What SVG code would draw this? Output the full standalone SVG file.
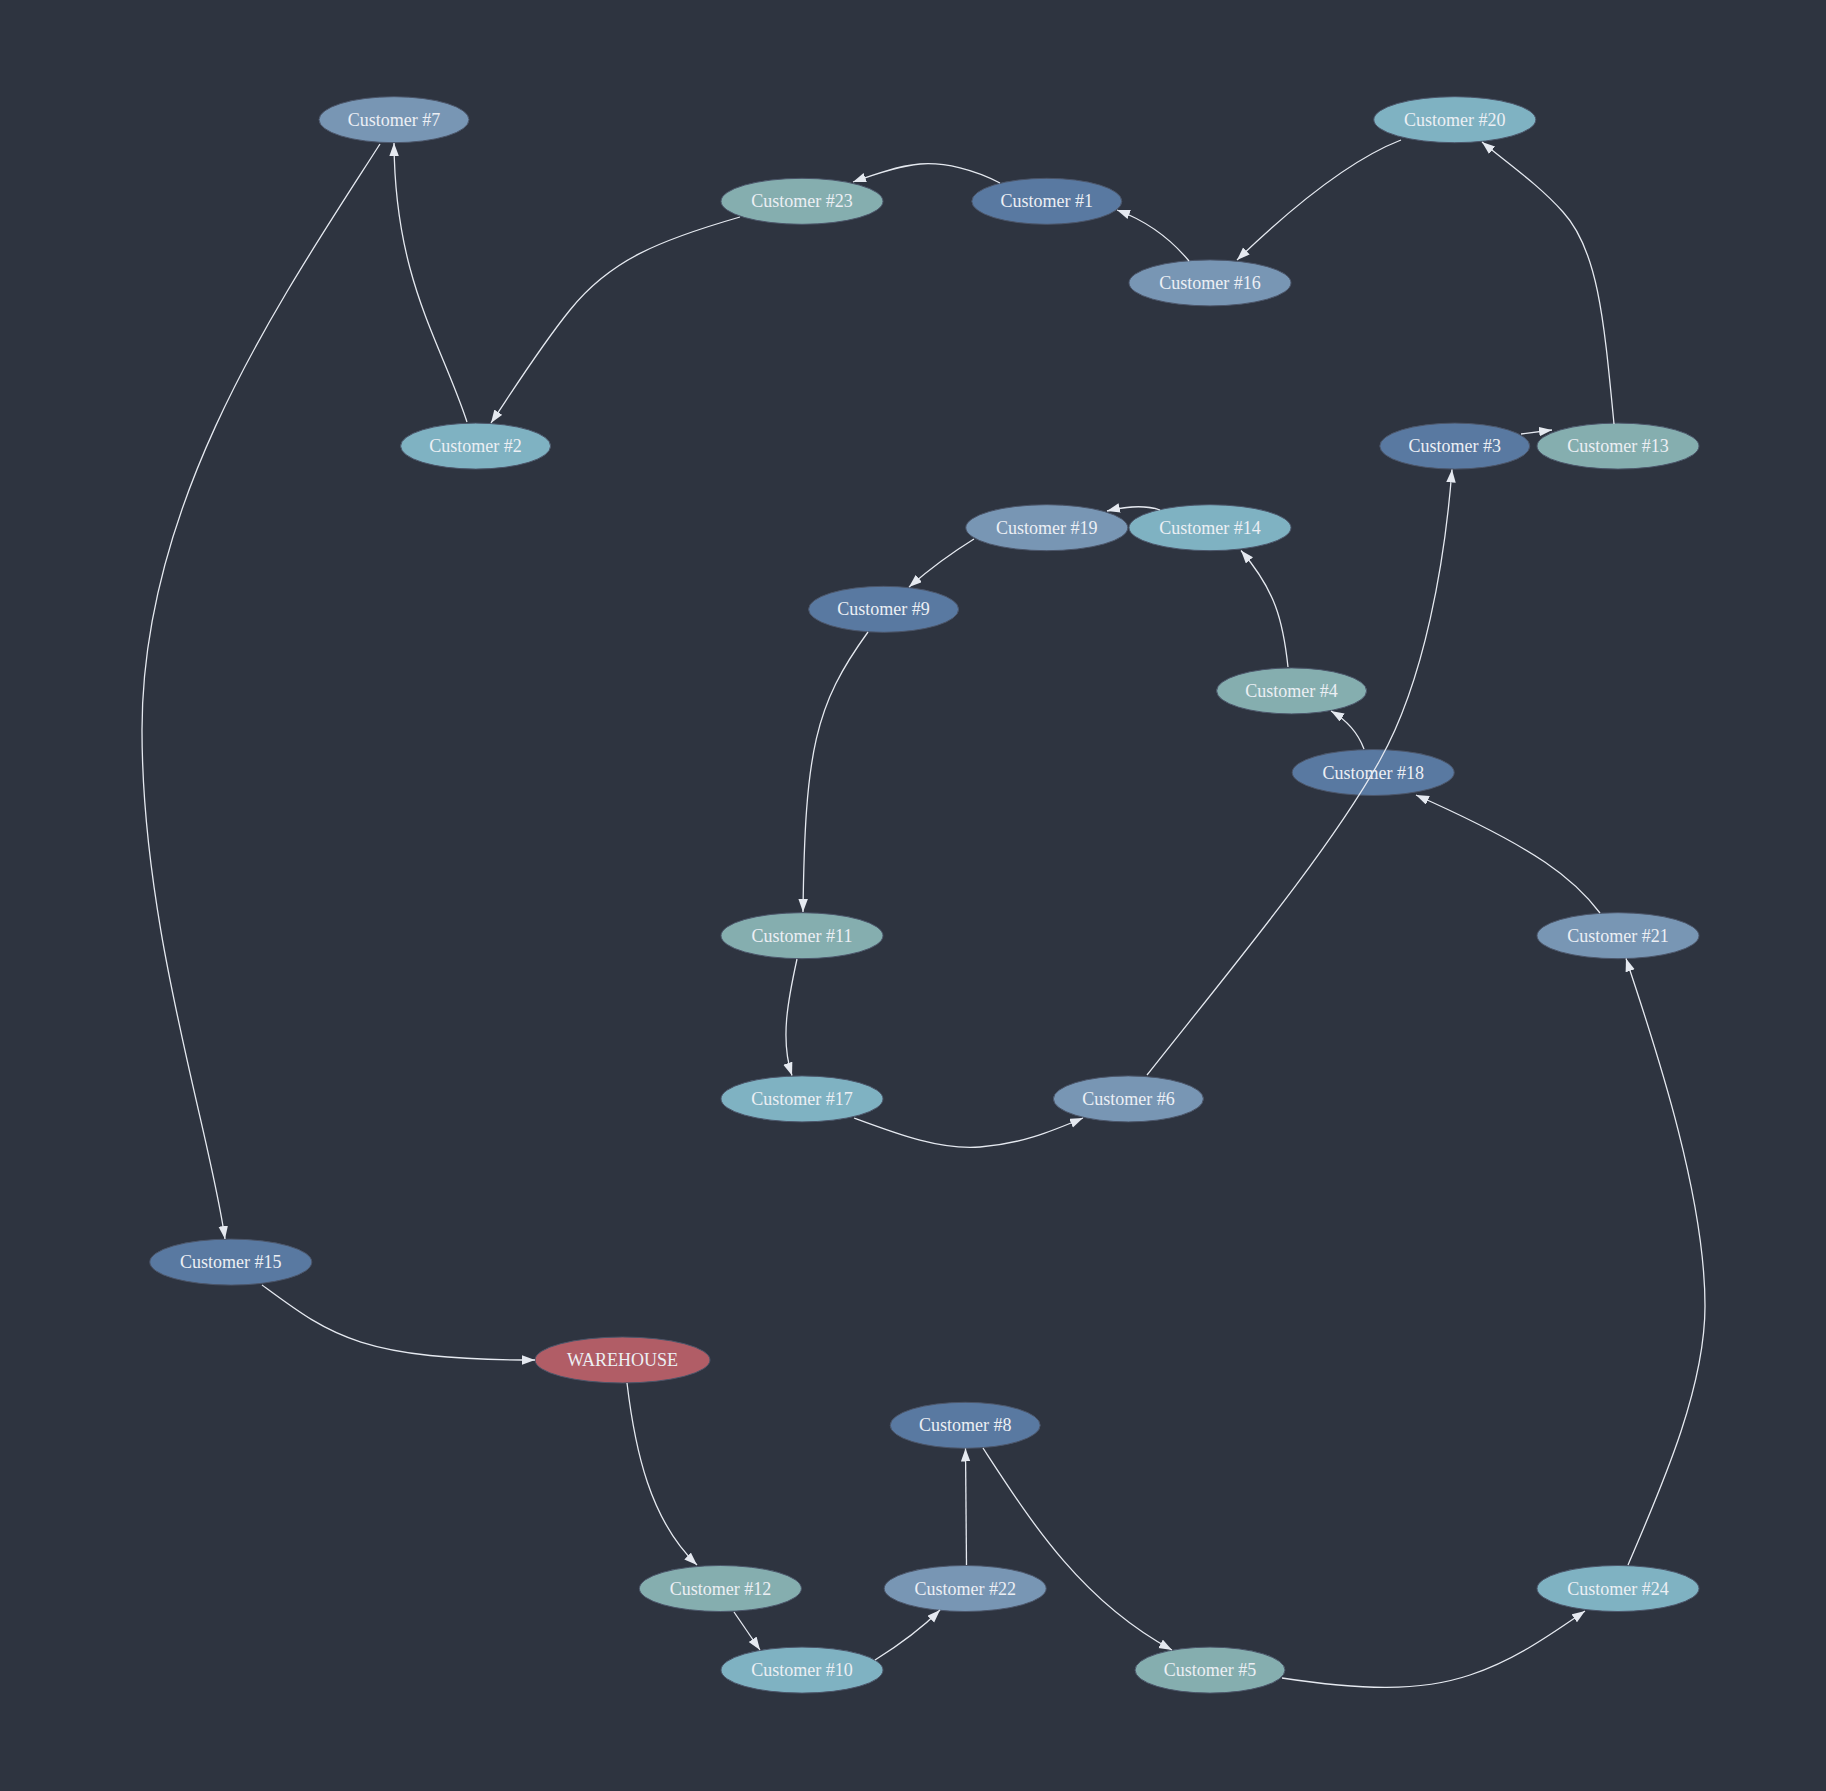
<svg xmlns="http://www.w3.org/2000/svg" width="1826" height="1791" viewBox="0 0 1826 1791">
<style>
.bg{fill:#2e3440}
.n ellipse{stroke:#4c566a;stroke-width:1}
.n text{font-family:"Liberation Serif","Times New Roman",serif;font-size:18px;fill:#eceff4;text-anchor:middle}
.c1{fill:#5979a1}.c2{fill:#7896b4}.c3{fill:#7fb2c2}.c4{fill:#85aeaf}.c5{fill:#b15d66}
#edges path{fill:none;stroke:#e5e9f0;stroke-width:1.3;marker-end:url(#ah)}
</style>
<defs>
<marker id="ah" markerUnits="userSpaceOnUse" markerWidth="14" markerHeight="10" refX="13" refY="4.75" orient="auto">
<path d="M0,0 L13,4.75 L0,9.5 z" fill="#e5e9f0"/>
</marker>
</defs>
<rect class="bg" x="0" y="0" width="1826" height="1791"/>
<g id="nodes">
<g id="c7" class="n"><ellipse class="c2" cx="394" cy="119.7" rx="75" ry="23"/><text x="394" y="125.7">Customer #7</text></g>
<g id="c20" class="n"><ellipse class="c3" cx="1454.8" cy="119.7" rx="81" ry="23"/><text x="1454.8" y="125.7">Customer #20</text></g>
<g id="c23" class="n"><ellipse class="c4" cx="802" cy="201.3" rx="81" ry="23"/><text x="802" y="207.3">Customer #23</text></g>
<g id="c1" class="n"><ellipse class="c1" cx="1046.8" cy="201.3" rx="75" ry="23"/><text x="1046.8" y="207.3">Customer #1</text></g>
<g id="c16" class="n"><ellipse class="c2" cx="1210" cy="282.9" rx="81" ry="23"/><text x="1210" y="288.9">Customer #16</text></g>
<g id="c2" class="n"><ellipse class="c3" cx="475.6" cy="446.1" rx="75" ry="23"/><text x="475.6" y="452.1">Customer #2</text></g>
<g id="c3" class="n"><ellipse class="c1" cx="1454.8" cy="446.1" rx="75" ry="23"/><text x="1454.8" y="452.1">Customer #3</text></g>
<g id="c13" class="n"><ellipse class="c4" cx="1618" cy="446.1" rx="81" ry="23"/><text x="1618" y="452.1">Customer #13</text></g>
<g id="c19" class="n"><ellipse class="c2" cx="1046.8" cy="527.7" rx="81" ry="23"/><text x="1046.8" y="533.7">Customer #19</text></g>
<g id="c14" class="n"><ellipse class="c3" cx="1210" cy="527.7" rx="81" ry="23"/><text x="1210" y="533.7">Customer #14</text></g>
<g id="c9" class="n"><ellipse class="c1" cx="883.6" cy="609.3" rx="75" ry="23"/><text x="883.6" y="615.3">Customer #9</text></g>
<g id="c4" class="n"><ellipse class="c4" cx="1291.6" cy="690.9" rx="75" ry="23"/><text x="1291.6" y="696.9">Customer #4</text></g>
<g id="c18" class="n"><ellipse class="c1" cx="1373.2" cy="772.5" rx="81" ry="23"/><text x="1373.2" y="778.5">Customer #18</text></g>
<g id="c11" class="n"><ellipse class="c4" cx="802" cy="935.7" rx="81" ry="23"/><text x="802" y="941.7">Customer #11</text></g>
<g id="c21" class="n"><ellipse class="c2" cx="1618" cy="935.7" rx="81" ry="23"/><text x="1618" y="941.7">Customer #21</text></g>
<g id="c17" class="n"><ellipse class="c3" cx="802" cy="1098.9" rx="81" ry="23"/><text x="802" y="1104.9">Customer #17</text></g>
<g id="c6" class="n"><ellipse class="c2" cx="1128.4" cy="1098.9" rx="75" ry="23"/><text x="1128.4" y="1104.9">Customer #6</text></g>
<g id="c15" class="n"><ellipse class="c1" cx="230.8" cy="1262.1" rx="81" ry="23"/><text x="230.8" y="1268.1">Customer #15</text></g>
<g id="warehouse" class="n"><ellipse class="c5" cx="622.5" cy="1360" rx="87.5" ry="23"/><text x="622.5" y="1366">WAREHOUSE</text></g>
<g id="c8" class="n"><ellipse class="c1" cx="965.2" cy="1425.3" rx="75" ry="23"/><text x="965.2" y="1431.3">Customer #8</text></g>
<g id="c12" class="n"><ellipse class="c4" cx="720.4" cy="1588.5" rx="81" ry="23"/><text x="720.4" y="1594.5">Customer #12</text></g>
<g id="c22" class="n"><ellipse class="c2" cx="965.2" cy="1588.5" rx="81" ry="23"/><text x="965.2" y="1594.5">Customer #22</text></g>
<g id="c24" class="n"><ellipse class="c3" cx="1618" cy="1588.5" rx="81" ry="23"/><text x="1618" y="1594.5">Customer #24</text></g>
<g id="c10" class="n"><ellipse class="c3" cx="802" cy="1670.1" rx="81" ry="23"/><text x="802" y="1676.1">Customer #10</text></g>
<g id="c5" class="n"><ellipse class="c4" cx="1210" cy="1670.1" rx="75" ry="23"/><text x="1210" y="1676.1">Customer #5</text></g>
</g>
<g id="edges">
<path d="M1000,183 C975,170 945,162 920,164 C898,166 875,174 853,182"/>
<path d="M1189,261 Q1160,226 1117,210"/>
<path d="M1401,140 C1370,152 1320,180 1237,260"/>
<path d="M1614,424 C1604,320 1598,250 1563,212 C1540,186 1510,165 1482,142"/>
<path d="M1521,434 L1552,430"/>
<path d="M740,217 C660,240 610,260 570,310 C540,347 510,395 491,423"/>
<path d="M467,422 C440,340 395,280 394,143"/>
<path d="M380,144 C280,300 142,500 142,730 C142,930 210,1130 225,1239"/>
<path d="M262,1285 C330,1335 360,1360 535,1360"/>
<path d="M627,1383 C635,1450 650,1520 697,1565"/>
<path d="M734,1612 L760,1650"/>
<path d="M875,1660 Q915,1635 940,1610"/>
<path d="M966.5,1565 L965.5,1448.5"/>
<path d="M983,1448 C1030,1520 1080,1600 1172,1650"/>
<path d="M1282,1678 C1360,1690 1420,1692 1470,1675 C1515,1660 1550,1635 1585,1611"/>
<path d="M1628,1565 C1660,1490 1705,1390 1705,1306 C1705,1200 1660,1060 1626,958.5"/>
<path d="M1600,913 C1575,880 1540,850 1416,795"/>
<path d="M1364,749 Q1355,725 1331,711"/>
<path d="M1288,667 C1283,620 1275,590 1241,550.5"/>
<path d="M1160,510 Q1140,503 1107,511"/>
<path d="M974,539 Q940,560 909,587"/>
<path d="M868,632 C815,705 805,750 803,912"/>
<path d="M797,959 C788,1000 780,1040 792,1075.5"/>
<path d="M854,1118 C900,1135 940,1150 980,1147 C1020,1144 1050,1132 1083,1118"/>
<path d="M1147,1075 C1230,970 1330,850 1380,760 C1425,680 1445,560 1452,469.5"/>
</g>
</svg>
